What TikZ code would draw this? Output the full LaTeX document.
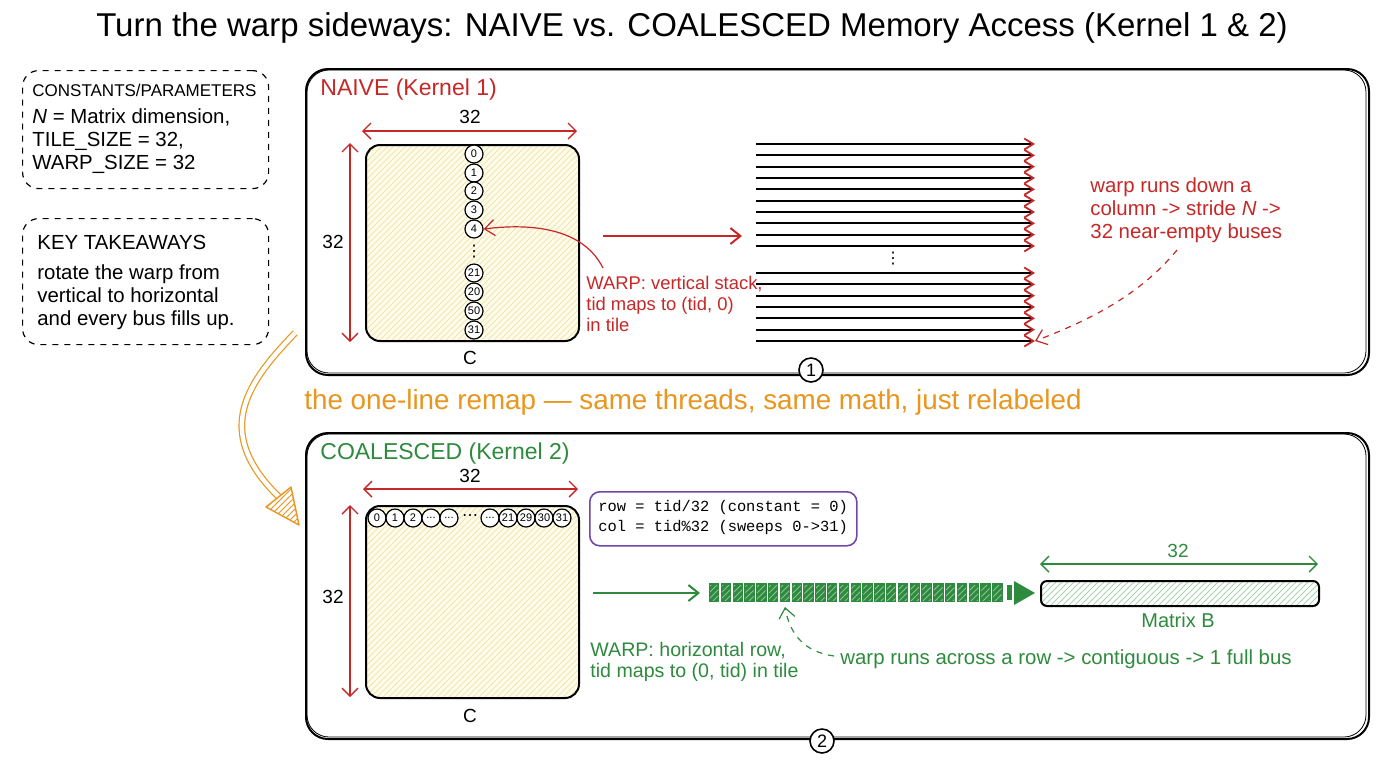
\documentclass[tikz,border=0pt]{standalone}
\usepackage{fontspec}
\setmainfont{Liberation Sans}
\setmonofont{Liberation Mono}
\newfontfamily\dejavu{DejaVu Sans}
\usetikzlibrary{arrows.meta,patterns,calc}
\definecolor{cred}{HTML}{C62828}
\definecolor{cgreen}{HTML}{2E8B3E}
\definecolor{corange}{HTML}{E8961E}
\definecolor{cpurple}{HTML}{7048A8}
\definecolor{cyel}{HTML}{FEFBEA}
\definecolor{chatch}{HTML}{F1E6B2}
\tikzset{
  body/.style={font=\fontsize{10.2}{11.5}\selectfont, align=left, inner sep=0pt},
  dashbox/.style={draw, dashed, line width=0.6pt, rounded corners=8pt, anchor=north west, inner sep=0pt},
  panel/.style={draw, line width=1pt, rounded corners=11pt, anchor=north west, inner sep=0pt},
  matbox/.style={draw, line width=1pt, rounded corners=7pt, anchor=north west, inner sep=0pt,
     preaction={fill=cyel}, pattern=north east lines, pattern color=chatch},
  tcirc/.style={circle, draw, line width=0.6pt, inner sep=0pt, minimum size=9pt, fill=white, font=\fontsize{5.5}{6}\selectfont},
  numcirc/.style={circle, draw, line width=0.8pt, inner sep=0pt, minimum size=12pt, fill=white, font=\fontsize{9}{10}\selectfont},
  barb/.style={-{Straight Barb[length=5pt,width=8pt]}},
  dimarrow/.style={line width=0.7pt, {Straight Barb[length=4pt,width=8pt]}-{Straight Barb[length=4pt,width=8pt]}},
  busline/.style={line width=0.9pt, black, -{Straight Barb[color=cred,length=4.5pt,width=5.5pt]}},
  dimlabel/.style={font=\fontsize{9.5}{11}\selectfont, inner sep=0pt},
  dotlabel/.style={font=\dejavu\fontsize{8}{8}\selectfont, inner sep=0pt},
}
\begin{document}
\begin{tikzpicture}[x=0.5pt,y=-0.5pt]
\useasboundingbox (0,0) rectangle (1376,768);
\fill[white] (0,0) rectangle (1376,768);

% title
\node[font=\fontsize{16.5}{19}\selectfont, inner sep=0pt] (title) at (692,28)
  {Turn the warp sideways: NAIVE vs. COALESCED Memory Access (Kernel 1 \& 2)};

% left boxes
\node[dashbox, minimum width=123pt, minimum height=59pt] (cbox) at (22,70) {};
\node[body, anchor=west, font=\fontsize{8.5}{10}\selectfont] (ctitle) at (32,90) {CONSTANTS/PARAMETERS};
\node[body, anchor=west] (ctext) at (32,141) {\textit{N} = Matrix dimension,\\TILE\_SIZE = 32,\\WARP\_SIZE = 32};
\node[dashbox, minimum width=123pt, minimum height=63pt] (kbox) at (22,218) {};
\node[body, anchor=west] (ktitle) at (37,242) {KEY TAKEAWAYS};
\node[body, anchor=west] (ktext) at (37,297) {rotate the warp from\\vertical to horizontal\\and every bus fills up.};

% ---------------- NAIVE panel
\node[panel, minimum width=531.5pt, minimum height=153pt] (p1) at (305,68) {};
\draw[line width=0.4pt, rounded corners=11pt] (307,70) rectangle (1366,373);
\node[body, anchor=west, text=cred, font=\fontsize{11.5}{13}\selectfont] (p1title) at (320,90) {NAIVE (Kernel 1)};
\node[numcirc] (n1) at (811,370) {1};

\node[matbox, minimum width=106.5pt, minimum height=98pt] (m1) at (365,144) {};
\node[dimlabel] (m1c) at (470,358) {C};
\coordinate (m1tl) at (362,131); \coordinate (m1tr) at (577,131);
\draw[dimarrow, cred] (m1tl) -- (m1tr);
\node[dimlabel] (m1top) at (470,117) {32};
\coordinate (m1lt) at (350,143); \coordinate (m1lb) at (350,342);
\draw[dimarrow, cred] (m1lt) -- (m1lb);
\node[dimlabel] (m1left) at (333,242) {32};

\node[tcirc] (v0) at (474,154) {0};
\node[tcirc] (v1) at (474,173) {1};
\node[tcirc] (v2) at (474,191) {2};
\node[tcirc] (v3) at (474,210) {3};
\node[tcirc] (v4) at (474,229) {4};
\node[dotlabel] (vdots) at (474,252) {⋮};
\node[tcirc] (v28) at (474,273) {21};
\node[tcirc] (v29) at (474,292) {20};
\node[tcirc] (v30) at (474,311) {50};
\node[tcirc] (v31) at (474,330) {31};

\node[body, anchor=west, text=cred, font=\fontsize{9.2}{10.5}\selectfont] (w1) at (586,304) {WARP: vertical stack,\\tid maps to (tid, 0)\\in tile};
\coordinate (w1s) at (603,268);
\draw[cred, line width=0.6pt, barb] (w1s) .. controls (585,232) and (540,222) .. (v4.east);

\coordinate (ha) at (603,236); \coordinate (hb) at (742,236);
\draw[cred, line width=1pt, barb] (ha) -- (hb);

\foreach \i [evaluate=\i as \yy using 144+\i*11.33] in {0,...,9}{
  \coordinate (bl\i) at (756,\yy); \coordinate (br\i) at (1035,\yy);
  \draw[busline] (bl\i) -- (br\i);
}
\foreach \i [evaluate=\i as \yy using 273+\i*11.33] in {0,...,6}{
  \coordinate (bll\i) at (756,\yy); \coordinate (brr\i) at (1035,\yy);
  \draw[busline] (bll\i) -- (brr\i);
}
\node[dotlabel] (bdots) at (893,259) {⋮};

\node[body, anchor=west, text=cred] (r1) at (1090,210) {warp runs down a\\column -> stride \textit{N} ->\\32 near-empty buses};
\coordinate (r1s) at (1177,250);
\draw[cred, line width=0.6pt, dashed, barb] (r1s) .. controls (1140,295) and (1090,320) .. (brr6.east);

% ---------------- remap arrow and text
\node[font=\fontsize{13.9}{15}\selectfont, text=corange, anchor=west, inner sep=0pt] (remap) at (304,402)
  {the one-line remap — same threads, same math, just relabeled};
\coordinate (oa) at (295,333); \coordinate (ob) at (279,497);
\draw[corange, line width=0.6pt, double=white, double distance=2.2pt] (oa) .. controls (250,380) and (210,430) .. (ob);
\coordinate (t1) at (266,507); \coordinate (t2) at (291,487); \coordinate (t3) at (299,525);
\draw[corange, line width=0.7pt, pattern=north east lines, pattern color=corange, line join=round] (t1) -- (t2) -- (t3) -- cycle;

% ---------------- COALESCED panel
\node[panel, minimum width=531.5pt, minimum height=153pt] (p2) at (305,432) {};
\draw[line width=0.4pt, rounded corners=11pt] (307,434) rectangle (1366,737);
\node[body, anchor=west, text=cgreen, font=\fontsize{11.5}{13}\selectfont] (p2title) at (320,454) {COALESCED (Kernel 2)};
\node[numcirc] (n2) at (822,741) {2};

\node[matbox, minimum width=106.5pt, minimum height=96pt] (m2) at (365,505) {};
\node[dimlabel] (m2c) at (470,716) {C};
\coordinate (m2tl) at (363,489); \coordinate (m2tr) at (578,489);
\draw[dimarrow, cred] (m2tl) -- (m2tr);
\node[dimlabel] (m2top) at (470,476) {32};
\coordinate (m2lt) at (350,505); \coordinate (m2lb) at (350,697);
\draw[dimarrow, cred] (m2lt) -- (m2lb);
\node[dimlabel] (m2left) at (333,597) {32};

\node[tcirc] (h0) at (377,518) {0};
\node[tcirc] (h1) at (395,518) {1};
\node[tcirc] (h2) at (413,518) {2};
\node[tcirc] (h3) at (431,518) {...};
\node[tcirc] (h4) at (449,518) {...};
\node[dotlabel] (hdots) at (470,517) {⋯};
\node[tcirc] (h5) at (490,518) {...};
\node[tcirc] (h28) at (508,518) {21};
\node[tcirc] (h29) at (526,518) {29};
\node[tcirc] (h30) at (544,518) {30};
\node[tcirc] (h31) at (562,518) {31};

\node[draw=cpurple, line width=0.8pt, rounded corners=5pt, anchor=north west, minimum width=133.5pt, minimum height=27pt, inner sep=0pt] (pbox) at (589,491) {};
\node[font=\ttfamily\fontsize{7.7}{10}\selectfont, align=left, anchor=west, inner sep=0pt] (ptext) at (598,518)
  {row = tid/32 (constant = 0)\\col = tid\%32 (sweeps 0->31)};

\coordinate (ga) at (593,593); \coordinate (gb) at (700,593);
\draw[cgreen, line width=1pt, barb] (ga) -- (gb);

\foreach \i [evaluate=\i as \xx using 709+\i*11.8] in {0,...,24}{
  \fill[cgreen] (\xx,583) rectangle ++(10.3,19);
  \fill[pattern=north east lines, pattern color=cgreen!55!white] (\xx+1,585) rectangle ++(8.3,15);
}
\fill[cgreen] (1007,585) rectangle (1012,600);
\coordinate (ta) at (1014,581); \coordinate (tb) at (1014,605); \coordinate (tc) at (1035,593);
\fill[cgreen] (ta) -- (tc) -- (tb) -- cycle;

\node[draw, line width=1pt, rounded corners=3pt, anchor=north west, minimum width=139pt, minimum height=12.5pt, inner sep=0pt,
  pattern=north east lines, pattern color=cgreen!40!white] (mb) at (1040,580) {};
\node[dimlabel, text=cgreen, font=\fontsize{10}{11}\selectfont] (mbl) at (1178,620) {Matrix B};
\coordinate (mbl1) at (1040,564); \coordinate (mbr1) at (1318,564);
\draw[dimarrow, cgreen] (mbl1) -- (mbr1);
\node[dimlabel, text=cgreen] (mbtop) at (1178,551) {32};

\node[body, anchor=west, text=cgreen, font=\fontsize{9.8}{10.5}\selectfont] (w2) at (590,662) {WARP: horizontal row,\\tid maps to (0, tid) in tile};
\node[body, anchor=west, text=cgreen] (r2) at (840,659) {warp runs across a row -> contiguous -> 1 full bus};
\coordinate (r2s) at (834,656); \coordinate (r2e) at (785,607);
\draw[cgreen, line width=0.6pt, dashed, barb] (r2s) .. controls (805,652) and (790,635) .. (r2e);

\end{tikzpicture}
\end{document}
